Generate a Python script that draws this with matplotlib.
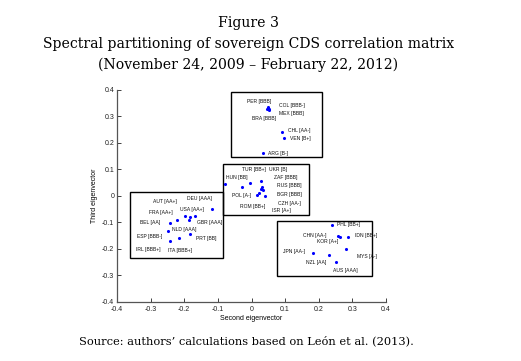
import matplotlib
matplotlib.use("Agg")
import matplotlib.pyplot as plt
from matplotlib.patches import Rectangle

# ---- data ----
countries = ["PER [BBB]", "COL [BBB-]", "MEX [BBB]", "BRA [BBB]", "CHL [AA-]", "VEN [B+]", "ARG [B-]",
             "HUN [BB]", "POL [A-]", "TUR [BB+]", "UKR [B]", "ZAF [BBB]", "RUS [BBB]", "BGR [BBB]",
             "ROM [BB+]", "CZH [AA-]", "ISR [A+]",
             "DEU [AAA]", "AUT [AA+]", "USA [AA+]", "GBR [AAA]", "FRA [AA+]", "BEL [AA]", "NLD [AAA]",
             "ESP [BBB-]", "PRT [BB]", "ITA [BBB+]", "IRL [BBB+]",
             "PHL [BB+]", "CHN [AA-]", "KOR [A+]", "IDN [BB+]", "JPN [AA-]", "NZL [AA]", "MYS [A-]", "AUS [AAA]"]
second_eig = [0.048, 0.053, 0.051, 0.046, 0.090, 0.097, 0.035,
              -0.079, -0.029, -0.004, 0.027, 0.032, 0.027, 0.022, 0.015, 0.040, 0.035,
              -0.117, -0.198, -0.168, -0.186, -0.221, -0.243, -0.249, -0.183, -0.183, -0.216, -0.242,
              0.239, 0.258, 0.263, 0.287, 0.182, 0.229, 0.282, 0.251]
third_eig = [0.334, 0.330, 0.326, 0.328, 0.242, 0.220, 0.162,
             0.043, 0.033, 0.050, 0.055, 0.034, 0.025, 0.012, 0.003, -0.001, 0.020,
             -0.049, -0.075, -0.075, -0.093, -0.093, -0.103, -0.132, -0.080, -0.143, -0.160, -0.172,
             -0.112, -0.154, -0.156, -0.157, -0.216, -0.223, -0.201, -0.252]

# label anchor positions (left edge, vertical centre)
label_x = [-0.014, 0.082, 0.083, 0.001, 0.108, 0.115, 0.048,
           -0.075, -0.059, -0.029, 0.053, 0.067, 0.077, 0.077, -0.034, 0.080, 0.060,
           -0.193, -0.292, -0.213, -0.163, -0.304, -0.332, -0.237, -0.342, -0.165, -0.248, -0.344,
           0.254, 0.154, 0.194, 0.308, 0.093, 0.162, 0.315, 0.243]
label_y = [0.357, 0.342, 0.313, 0.294, 0.248, 0.215, 0.158,
           0.069, 0.000, 0.101, 0.101, 0.069, 0.038, 0.005, -0.042, -0.029, -0.054,
           -0.009, -0.022, -0.053, -0.103, -0.063, -0.103, -0.126, -0.156, -0.160, -0.208, -0.204,
           -0.107, -0.150, -0.172, -0.150, -0.210, -0.254, -0.231, -0.282]

# cluster boxes: (x0, x1, y0, y1)
boxes = [(-0.061, 0.209, 0.145, 0.394),
         (-0.086, 0.172, -0.072, 0.121),
         (-0.362, -0.084, -0.235, 0.015),
         (0.075, 0.359, -0.305, -0.094)]

ticks = [-0.4, -0.3, -0.2, -0.1, 0, 0.1, 0.2, 0.3, 0.4]
tick_labels = ["-0.4", "-0.3", "-0.2", "-0.1", "0", "0.1", "0.2", "0.3", "0.4"]

# ---- figure ----
fig = plt.figure(figsize=(5.21, 3.61), dpi=100)
serif = ["DejaVu Serif"]
sans = ["Liberation Sans", "DejaVu Sans"]

tx = 248.5 / 521
fig.text(tx, 1 - 23 / 361, "Figure 3", ha="center", va="center", fontsize=10.1, family=serif)
fig.text(tx, 1 - 44 / 361, "Spectral partitioning of sovereign CDS correlation matrix",
         ha="center", va="center", fontsize=10.1, family=serif)
fig.text(tx, 1 - 65 / 361, "(November 24, 2009 \u2013 February 22, 2012)",
         ha="center", va="center", fontsize=10.1, family=serif)
fig.text(79 / 521, 1 - 341 / 361, "Source: authors\u2019 calculations based on Le\u00f3n et al. (2013).",
         ha="left", va="center", fontsize=8.2, family=serif)

ax = fig.add_axes([117 / 521, 1 - 301.5 / 361, 269 / 521, 211.5 / 361])
ax.scatter(second_eig, third_eig, s=5, color="#0000ff", zorder=3, linewidths=0)
for name, lx, ly in zip(countries, label_x, label_y):
    ax.text(lx, ly, name, fontsize=3.6, family=sans, ha="left", va="center", color="#111111")

for x0, x1, y0, y1 in boxes:
    ax.add_patch(Rectangle((x0, y0), x1 - x0, y1 - y0, fill=False, edgecolor="black", linewidth=1.0))

ax.set_xlim(-0.4, 0.4)
ax.set_ylim(-0.4, 0.4)
ax.set_xticks(ticks)
ax.set_yticks(ticks)
ax.set_xticklabels(tick_labels, fontsize=5, family=sans)
ax.set_yticklabels(tick_labels, fontsize=5, family=sans)
ax.tick_params(direction="in", length=3, width=0.6, pad=2, colors="#222222")
ax.tick_params(axis="x", pad=3)
for s in ["top", "right"]:
    ax.spines[s].set_visible(False)
for s in ["left", "bottom"]:
    ax.spines[s].set_color("#555555")
    ax.spines[s].set_linewidth(0.9)
ax.set_xlabel("Second eigenvector", fontsize=5, family=sans, labelpad=2)
ax.set_ylabel("Third eigenvector", fontsize=5, family=sans, labelpad=3)

fig.savefig("out.png", dpi=100)
